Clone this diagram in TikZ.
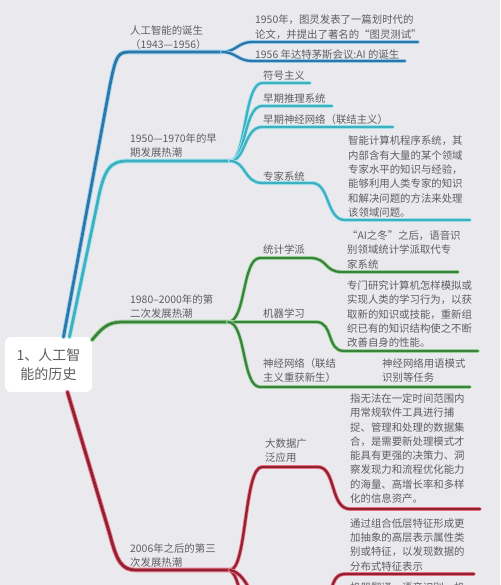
\documentclass[tikz,border=0pt]{standalone}
\usepackage{fontspec}
\newfontfamily\cjk{Noto Sans CJK SC}
\definecolor{bg}{HTML}{EAEAEE}
\definecolor{txtgray}{HTML}{5E5E62}
\definecolor{blueA}{HTML}{2F76A8}
\definecolor{blueAh}{HTML}{9ED6F2}
\definecolor{tealB}{HTML}{3EB0C2}
\definecolor{tealBh}{HTML}{A8E6EE}
\definecolor{greenC}{HTML}{3C823F}
\definecolor{greenCh}{HTML}{A6DDA2}
\definecolor{redD}{HTML}{8F2233}
\definecolor{redDh}{HTML}{F27C8C}
\tikzset{
	txt/.style={font=\cjk\fontsize{10.4}{14.3}\selectfont, text=txtgray, align=left, inner sep=0pt, anchor=north west},
	root/.style={font=\cjk\fontsize{14}{19.5}\selectfont, text=txtgray, align=center, fill=white, rounded corners=6pt, minimum width=87pt, minimum height=55pt, inner sep=0pt},
	mainline/.style 2 args={draw=#1, line width=2.8pt, line cap=round, line join=round, preaction={draw=#2, line width=4.6pt, line cap=round, line join=round}},
	subline/.style 2 args={draw=#1, line width=2.3pt, line cap=round, line join=round, preaction={draw=#2, line width=3.9pt, line cap=round, line join=round}}
}
\begin{document}
\begin{tikzpicture}[x=1pt, y=-1pt]
	\fill[bg] (0,0) rectangle (500,585);
	\useasboundingbox (0,0) rectangle (500,585);
	\clip (0,0) rectangle (500,585);

	\node[root] (root) at (48.5,364.5) {1、人工智\\能的历史};

	\coordinate (f1) at (222,52);
	\coordinate (f2) at (230,161);
	\coordinate (f3) at (228,322);
	\coordinate (f4) at (230,570);

	\draw[mainline={blueA}{blueAh}] ([xshift=15pt]root.north) -- (110,85) .. controls (116,55) and (118,52) .. (130,52) -- (f1);
	\draw[mainline={tealB}{tealBh}] ([xshift=21pt]root.north) -- (97,205) .. controls (104,168) and (110,161) .. (128,161) -- (f2);
	\draw[mainline={greenC}{greenCh}] ([yshift=-3pt]root.north east) .. controls (102,328) and (108,322) .. (122,322) -- (f3);
	\draw[mainline={redD}{redDh}] ([xshift=19pt]root.south) -- (110,535) .. controls (117,562) and (122,570) .. (136,570) -- (f4);

	\coordinate (e1a) at (418,42);
	\coordinate (e1b) at (405,61);
	\draw[subline={blueA}{blueAh}] (f1) .. controls (236,52) and (238,42) .. (252,42) -- (e1a);
	\draw[subline={blueA}{blueAh}] (f1) .. controls (236,52) and (238,61) .. (252,61) -- (e1b);

	\coordinate (e2a) at (310,83);
	\coordinate (e2b) at (332,106);
	\coordinate (e2c) at (393,127);
	\coordinate (e2d) at (470,220);
	\draw[subline={tealB}{tealBh}] (f2) .. controls (246,161) and (244,83) .. (262,83) -- (e2a);
	\draw[subline={tealB}{tealBh}] (f2) .. controls (246,161) and (244,106) .. (262,106) -- (e2b);
	\draw[subline={tealB}{tealBh}] (f2) .. controls (246,161) and (244,127) .. (262,127) -- (e2c);
	\draw[subline={tealB}{tealBh}] (f2) .. controls (246,161) and (244,183) .. (262,183) -- (312,183) .. controls (330,183) and (326,220) .. (345,220) -- (e2d);

	\coordinate (e3a) at (458,272);
	\coordinate (e3b) at (478,351);
	\coordinate (e3c) at (470,387);
	\draw[subline={greenC}{greenCh}] (f3) .. controls (246,322) and (242,258) .. (260,258) -- (310,258) .. controls (328,258) and (324,272) .. (342,272) -- (e3a);
	\draw[subline={greenC}{greenCh}] (f3) -- (316,322) .. controls (334,322) and (326,351) .. (344,351) -- (e3b);
	\draw[subline={greenC}{greenCh}] (f3) .. controls (246,322) and (242,387) .. (260,387) -- (e3c);

	\coordinate (e4a) at (480,509);
	\coordinate (e4b) at (474,574);
	\coordinate (s4b) at (330,594);
	\coordinate (o4a) at (240,594);
	\coordinate (o4b) at (252,594);
	\draw[subline={redD}{redDh}] (f4) .. controls (247,570) and (244,467) .. (262,467) -- (318,467) .. controls (336,467) and (330,509) .. (350,509) -- (e4a);
	\draw[subline={redD}{redDh}] (s4b) .. controls (334,578) and (337,574) .. (346,574) -- (e4b);
	\draw[subline={redD}{redDh}] (f4) .. controls (235,574) and (238,582) .. (o4a);
	\draw[subline={redD}{redDh}] (f4) .. controls (240,572) and (246,582) .. (o4b);

	\node[txt] (t1) at (130,25.4) {人工智能的诞生\\（1943—1956）};
	\node[txt] (t2) at (130,133.4) {1950—1970年的早\\期发展热潮};
	\node[txt] (t3) at (130,294.4) {1980–2000年的第\\二次发展热潮};
	\node[txt] (t4) at (130,543.4) {2006年之后的第三\\次发展热潮};

	\node[txt] (s1) at (263,70.4) {符号主义};
	\node[txt] (s2) at (263,93.4) {早期推理系统};
	\node[txt] (s3) at (263,114.4) {早期神经网络（联结主义）};
	\node[txt] (s4) at (263,171.4) {专家系统};
	\node[txt] (s5) at (263,244.4) {统计学派};
	\node[txt] (s6) at (263,308.4) {机器学习};
	\node[txt] (s7) at (263,358.4) {神经网络（联结\\主义重获新生）};
	\node[txt] (s8) at (265,438.4) {大数据广\\泛应用};

	\node[txt] (d1) at (255,14.8) {1950年，图灵发表了一篇划时代的\\论文，并提出了著名的“图灵测试”};
	\node[txt] (d2) at (255,49.4) {1956 年达特茅斯会议:AI 的诞生};
	\node[txt] (d3) at (348,136) {智能计算机程序系统，其\\内部含有大量的某个领域\\专家水平的知识与经验，\\能够利用人类专家的知识\\和解决问题的方法来处理\\该领域问题。};
	\node[txt] (d4) at (347,230.4) {“AI之冬”之后，语音识\\别领域统计学派取代专\\家系统};
	\node[txt] (d5) at (347,280.4) {专门研究计算机怎样模拟或\\实现人类的学习行为，以获\\取新的知识或技能，重新组\\织已有的知识结构使之不断\\改善自身的性能。};
	\node[txt] (d6) at (382,358.4) {神经网络用语模式\\识别等任务};
	\node[txt] (d7) at (350,393.4) {指无法在一定时间范围内\\用常规软件工具进行捕\\捉、管理和处理的数据集\\合，是需要新处理模式才\\能具有更强的决策力、洞\\察发现力和流程优化能力\\的海量、高增长率和多样\\化的信息资产。};
	\node[txt] (d8) at (350,518.4) {通过组合低层特征形成更\\加抽象的高层表示属性类\\别或特征，以发现数据的\\分布式特征表示};
	\node[txt] (d9) at (350,582.4) {机器翻译、语音识别、机};
\end{tikzpicture}
\end{document}
